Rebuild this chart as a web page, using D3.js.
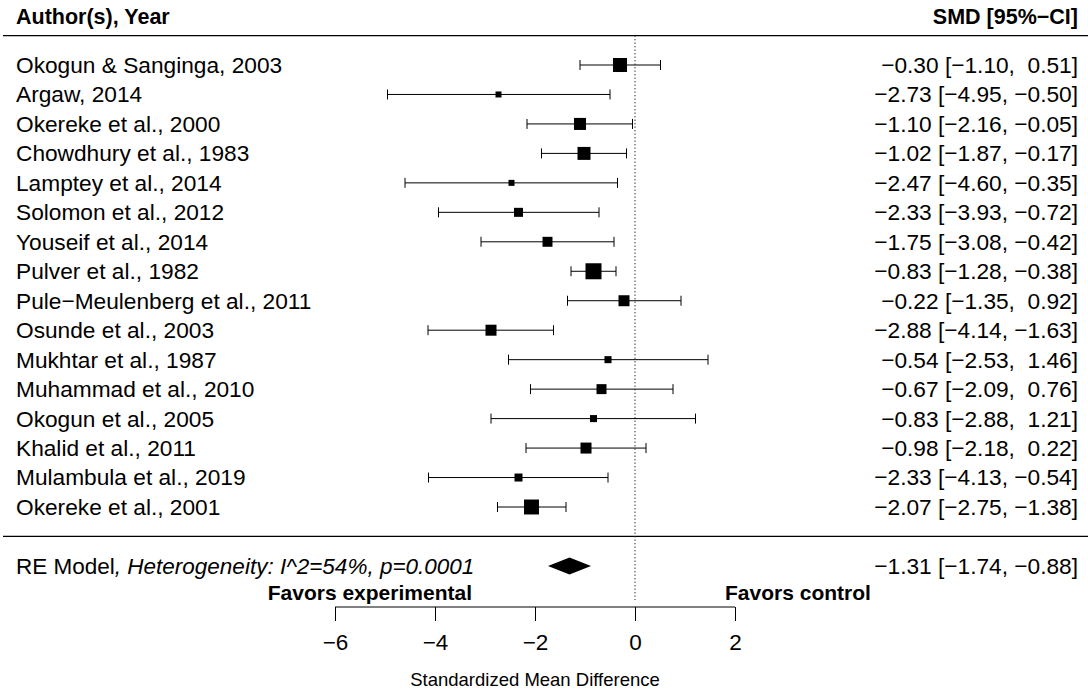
<!DOCTYPE html>
<html>
<head>
<meta charset="utf-8">
<script src="https://cdn.jsdelivr.net/npm/d3@7"></script>
<style>
  body { margin: 0; background: #fff; }
  text { font-family: "Liberation Sans", Arial, Helvetica, sans-serif; fill: #000; white-space: pre; }
</style>
</head>
<body>
<svg id="chart" width="1088" height="691"></svg>
<script>
// Study data
var studies = [
  "Okogun & Sanginga, 2003", "Argaw, 2014", "Okereke et al., 2000", "Chowdhury et al., 1983",
  "Lamptey et al., 2014", "Solomon et al., 2012", "Youseif et al., 2014", "Pulver et al., 1982",
  "Pule\u2212Meulenberg et al., 2011", "Osunde et al., 2003", "Mukhtar et al., 1987",
  "Muhammad et al., 2010", "Okogun et al., 2005", "Khalid et al., 2011",
  "Mulambula et al., 2019", "Okereke et al., 2001"
];
var estimates = [-0.30, -2.73, -1.10, -1.02, -2.47, -2.33, -1.75, -0.83, -0.22, -2.88, -0.54, -0.67, -0.83, -0.98, -2.33, -2.07];
var lower     = [-1.10, -4.95, -2.16, -1.87, -4.60, -3.93, -3.08, -1.28, -1.35, -4.14, -2.53, -2.09, -2.88, -2.18, -4.13, -2.75];
var upper     = [ 0.51, -0.50, -0.05, -0.17, -0.35, -0.72, -0.42, -0.38,  0.92, -1.63,  1.46,  0.76,  1.21,  0.22, -0.54, -1.38];
// approximate study weights (%), estimated from the square sizes
var weights   = [10.5, 2.8, 8.6, 9.5, 2.8, 5.7, 6.6, 12.4, 7.6, 7.6, 3.8, 6.6, 3.8, 7.6, 4.7, 11.4];

var pooled = { est: -1.31, lb: -1.74, ub: -0.88 };
var xTicks = [-6, -4, -2, 0, 2];

var svg = d3.select("#chart");
var W = 1088;
var k = studies.length;

var x = d3.scaleLinear().domain([-6, 2]).range([335, 735]);
// metafor style rows: k at top ... 1 at bottom, summary at -1
var y = d3.scaleLinear().domain([k, 1]).range([65, 507]);
var size = d3.scaleLinear().domain(d3.extent(weights)).range([6, 16]);

var fmt = d3.format(".2f");
function pad(v) { return (v >= 0 ? " " : "") + fmt(v); }

var rows = studies.map(function(s, i) {
  return { name: s, est: estimates[i], lb: lower[i], ub: upper[i], w: weights[i], row: k - i };
});

// header
svg.append("text").attr("x", 16).attr("y", 16).attr("dy", "0.35em")
  .style("font-size", "21.5px").style("font-weight", "bold").text("Author(s), Year");
svg.append("text").attr("x", 1078).attr("y", 16).attr("dy", "0.35em").attr("text-anchor", "end")
  .style("font-size", "21.5px").style("font-weight", "bold").text("SMD [95%\u2212CI]");

// horizontal rules
svg.append("line").attr("x1", 3).attr("x2", W).attr("y1", y(k + 1)).attr("y2", y(k + 1))
  .attr("stroke", "#000").attr("stroke-width", 1.2);
svg.append("line").attr("x1", 3).attr("x2", W).attr("y1", y(0)).attr("y2", y(0))
  .attr("stroke", "#000").attr("stroke-width", 1.2);

// reference line
svg.append("line").attr("x1", x(0)).attr("x2", x(0)).attr("y1", y(k + 1)).attr("y2", 600)
  .attr("stroke", "#222").attr("stroke-width", 1).attr("stroke-dasharray", "1.3,2.2");

// study rows
var g = svg.append("g").selectAll("g").data(rows).enter().append("g");

g.append("line")
  .attr("x1", function(d) { return x(d.lb); }).attr("x2", function(d) { return x(d.ub); })
  .attr("y1", function(d) { return y(d.row); }).attr("y2", function(d) { return y(d.row); })
  .attr("stroke", "#000").attr("stroke-width", 1);
["lb", "ub"].forEach(function(key) {
  g.append("line")
    .attr("x1", function(d) { return x(d[key]); }).attr("x2", function(d) { return x(d[key]); })
    .attr("y1", function(d) { return y(d.row) - 5; }).attr("y2", function(d) { return y(d.row) + 5; })
    .attr("stroke", "#000").attr("stroke-width", 1);
});
g.append("rect")
  .attr("x", function(d) { return x(d.est) - size(d.w) / 2; })
  .attr("y", function(d) { return y(d.row) - size(d.w) / 2; })
  .attr("width", function(d) { return size(d.w); })
  .attr("height", function(d) { return size(d.w); })
  .attr("fill", "#000");

g.append("text").attr("x", 16).attr("y", function(d) { return y(d.row); }).attr("dy", "0.35em")
  .style("font-size", "22.7px").text(function(d) { return d.name; });
g.append("text").attr("x", 1078).attr("y", function(d) { return y(d.row); }).attr("dy", "0.35em")
  .attr("text-anchor", "end").style("font-size", "22.7px")
  .text(function(d) { return fmt(d.est) + " [" + fmt(d.lb) + ", " + pad(d.ub) + "]"; });

// summary row
var ys = y(-1);
svg.append("path")
  .attr("d", "M" + x(pooled.lb) + "," + ys + "L" + x(pooled.est) + "," + (ys - 8.5) +
             "L" + x(pooled.ub) + "," + ys + "L" + x(pooled.est) + "," + (ys + 8.5) + "Z")
  .attr("fill", "#000");
var re = svg.append("text").attr("x", 16).attr("y", ys).attr("dy", "0.35em").style("font-size", "22.5px");
re.append("tspan").text("RE Model");
re.append("tspan").style("font-style", "italic").text(", Heterogeneity: I^2=54%, p=0.0001");
svg.append("text").attr("x", 1078).attr("y", ys).attr("dy", "0.35em").attr("text-anchor", "end")
  .style("font-size", "22.7px")
  .text(fmt(pooled.est) + " [" + fmt(pooled.lb) + ", " + pad(pooled.ub) + "]");

// x axis
var axisY = 607;
var axis = svg.append("g").attr("transform", "translate(0," + axisY + ")")
  .call(d3.axisBottom(x).tickValues(xTicks).tickSize(14).tickPadding(13)
    .tickFormat(d3.format("d")));
axis.select(".domain").attr("d", "M" + x(-6) + ",0H" + x(2)).attr("stroke-width", 1);
axis.selectAll(".tick line").attr("stroke-width", 1);
axis.selectAll(".tick text").style("font-size", "22.5px")
  .style("font-family", "\"Liberation Sans\", Arial, Helvetica, sans-serif");

svg.append("text").attr("x", x(-3.26)).attr("y", 593).attr("dy", "0.35em").attr("text-anchor", "end")
  .style("font-size", "21px").style("font-weight", "bold").text("Favors experimental");
svg.append("text").attr("x", x(1.8)).attr("y", 593).attr("dy", "0.35em")
  .style("font-size", "21px").style("font-weight", "bold").text("Favors control");

svg.append("text").attr("x", x(-2)).attr("y", 680).attr("dy", "0.35em").attr("text-anchor", "middle")
  .style("font-size", "18.5px").text("Standardized Mean Difference");
</script>
</body>
</html>
